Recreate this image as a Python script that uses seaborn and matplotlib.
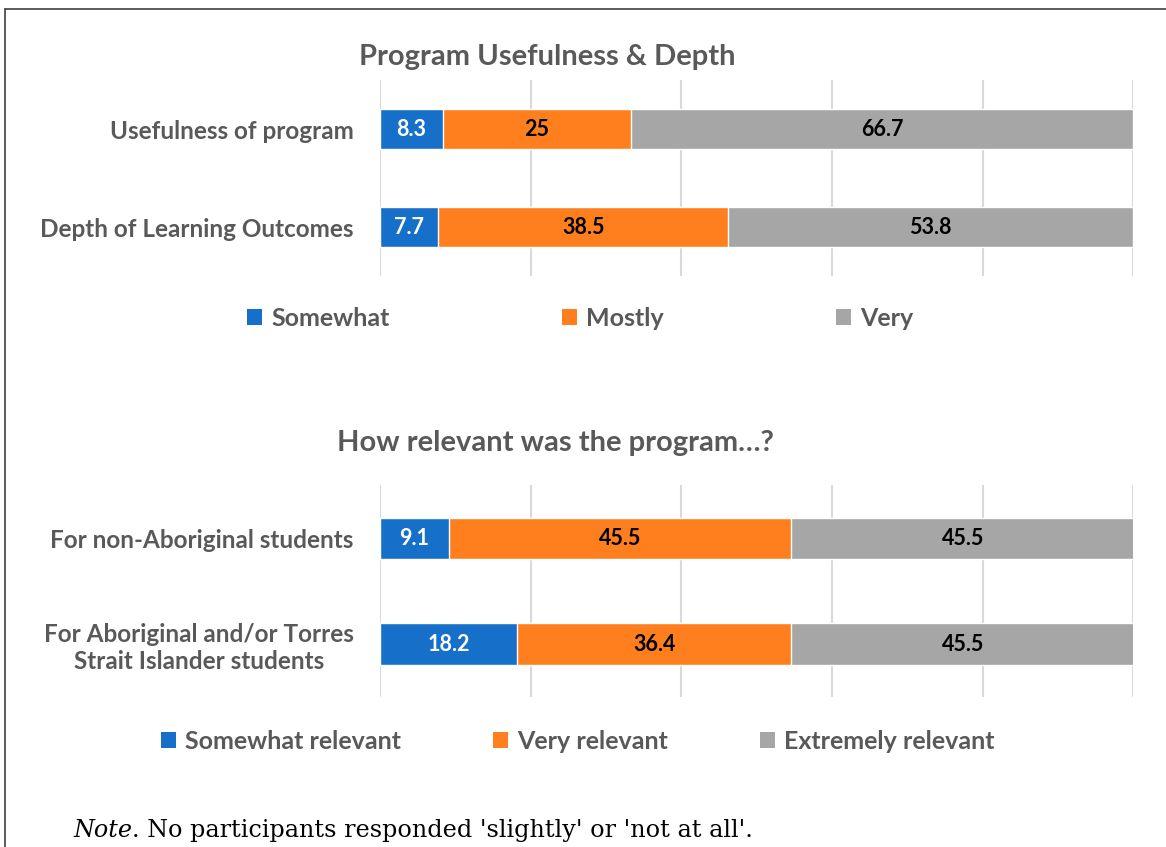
import numpy as np
import pandas as pd
import seaborn as sns
import matplotlib.pyplot as plt
from matplotlib.patches import Patch
from matplotlib.lines import Line2D

# chart 1
depth_items = ["Usefulness of program", "Depth of Learning Outcomes"]
depth_levels = ["Somewhat", "Mostly", "Very"]
depth_somewhat = [8.3, 7.7]
depth_mostly = [25, 38.5]
depth_very = [66.7, 53.8]

# chart 2
rel_items = ["For non-Aboriginal students", "For Aboriginal and/or Torres\nStrait Islander students"]
rel_levels = ["Somewhat relevant", "Very relevant", "Extremely relevant"]
rel_somewhat = [9.1, 18.2]
rel_very = [45.5, 36.4]
rel_extremely = [45.5, 45.5]

COLORS = ["#1670C9", "#FF7F1F", "#A6A6A6"]
LABEL_COLORS = ["white", "black", "black"]
TEXT = "#595959"

sns.set_style("white")
plt.rcParams['font.family'] = ['Lato', 'DejaVu Sans']


def stacked(ax, items, levels, series, bar_w):
    df = pd.DataFrame({"item": items})
    for lev, vals in zip(levels, series):
        df[lev] = vals
    cum = df[levels].cumsum(axis=1)
    cum["item"] = items
    # draw widest first so shorter ones sit on top
    for lev, col in reversed(list(zip(levels, COLORS))):
        sns.barplot(data=cum, x=lev, y="item", color=col,
                    width=bar_w, saturation=1, ax=ax, orient="h")
    for i in range(len(items)):
        start = 0
        for lev, tc in zip(levels, LABEL_COLORS):
            v = df.loc[i, lev]
            ax.text(start + v / 2, i, f"{v:g}", ha="center", va="center",
                    fontsize=15.5, fontweight="bold", color=tc)
            start += v
    ax.set_xlim(0, 100)
    ax.set_ylim(1.5, -0.5)
    ax.set_xticks(np.arange(0, 101, 20))
    ax.set_xticklabels([])
    ax.tick_params(axis="x", length=0)
    ax.tick_params(axis="y", length=0, pad=19)
    for lab in ax.get_yticklabels():
        lab.set_fontsize(17.5)
        lab.set_fontweight("bold")
        lab.set_color(TEXT)
        lab.set_multialignment("center")
    ax.set_xlabel("")
    ax.set_ylabel("")
    ax.grid(axis="x", color="#D9D9D9", linewidth=1.5)
    ax.set_axisbelow(True)
    sns.despine(ax=ax, left=True, bottom=True)
    return [Patch(facecolor=c, edgecolor="none") for c in COLORS]


fig = plt.figure(figsize=(11.66, 8.47), dpi=100)
ax1 = fig.add_axes([0.326, 0.674, 0.646, 0.231])
ax2 = fig.add_axes([0.326, 0.177, 0.646, 0.250])

h1 = stacked(ax1, depth_items, depth_levels, [depth_somewhat, depth_mostly, depth_very], 0.41)
h2 = stacked(ax2, rel_items, rel_levels, [rel_somewhat, rel_very, rel_extremely], 0.39)

fig.text(0.469, 1 - 57 / 847, "Program Usefulness & Depth", ha="center", va="center",
         fontsize=21, fontweight="bold", color=TEXT)
fig.text(0.476, 1 - 443 / 847, "How relevant was the program…?", ha="center", va="center",
         fontsize=21, fontweight="bold", color=TEXT)

legend_kw = dict(ncol=3, loc="center", frameon=False, handlelength=0.6, handleheight=0.6,
                 handletextpad=0.35, prop={"family": "Lato", "weight": "bold", "size": 18})
leg1 = fig.legend(h1, depth_levels, bbox_to_anchor=(0.4975, 1 - 318 / 847),
                  columnspacing=6.9, **legend_kw)
leg2 = fig.legend(h2, rel_levels, bbox_to_anchor=(0.4955, 1 - 741 / 847),
                  columnspacing=3.7, **legend_kw)
for leg in (leg1, leg2):
    for t in leg.get_texts():
        t.set_color(TEXT)

# frame around the chart
fig.add_artist(Line2D([0.004, 0.004], [0.0, 0.989], color="#404040", lw=1.2))
fig.add_artist(Line2D([0.004, 1.0], [0.989, 0.989], color="#404040", lw=1.2))

note = fig.text(0.063, 0.012, "Note", fontstyle="italic", fontsize=17.2, family="DejaVu Serif",
                color="black", va="baseline")
fig.canvas.draw()
bb = note.get_window_extent()
fig.text(bb.x1 / fig.bbox.width, 0.012,
         ". No participants responded 'slightly' or 'not at all'.", fontsize=17.2,
         family="DejaVu Serif", color="black", va="baseline")

fig.savefig("out.png", dpi=100)
